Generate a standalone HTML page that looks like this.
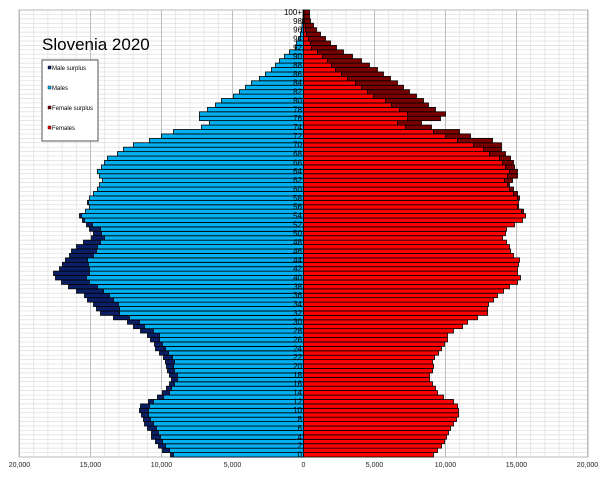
<!DOCTYPE html>
<html><head><meta charset="utf-8"><style>
body{margin:0;background:#fff;}
svg{display:block;font-family:"Liberation Sans",sans-serif;}
</style></head><body>
<svg id="s" width="600" height="482" xmlns="http://www.w3.org/2000/svg"></svg>
<script>
const M=[133,141,145,148,152,152,156,159,160,162,164,163,155,146,141,137,134,132,134,136,137,138,140,144,148,149,153,156,163,170,176,190,203,207,210,216,219,227,235,242,248,250,244,241,238,234,232,227,220,212,210,214,217,221,224,218,214,216,214,210,206,204,201,204,206,202,199,196,186,180,170,154,142,130,102,94,104,104,96,88,82,70,64,58,52,44,38,32,28,24,19,14,8,7,5,3,2,1.5,1,0.5,0.5];
const F=[130,134,138,141,143,145,147,150,153,155,155,154,150,140,134,132,129,126,126,129,130,129,131,135,138,141,144,144,150,159,164,174,184,184,185,190,194,200,206,214,217,214,214,215,216,210,207,206,203,199,202,203,211,219,222,220,215,215,216,214,210,206,209,214,214,211,210,207,202,198,198,189,167,156,128,118,137,142,132,125,120,113,106,100,94,87,80,74,66,58,49,40,33,27,22,17,13,10,7,6,6];
const C=303.5,T=10,B=457,L=19,R=588,H=(B-T)/101;
let s='';
for(let a=0;a<=101;a++){const y=(B-a*H).toFixed(2);s+=`<line x1="${L}" x2="${R}" y1="${y}" y2="${y}" stroke="#dedede" stroke-width="0.7"/>`;}
for(let k=-20;k<=20;k++){const x=(C+k*14.2).toFixed(2);const maj=k%5==0;s+=`<line x1="${x}" x2="${x}" y1="${T}" y2="${B}" stroke="${maj?'#bdbdbd':'#e0e0e0'}" stroke-width="${maj?1:0.8}"/>`;}
s+=`<rect x="${L}" y="${T}" width="${R-L}" height="${B-T}" fill="none" stroke="#b8b8b8" stroke-width="1"/>`;
for(let a=0;a<=100;a++){
 const y=B-(a+1)*H, m=M[a], f=F[a], mn=Math.min(m,f);
 const st='stroke="#000" stroke-width="0.8"';
 if(m>f) s+=`<rect x="${C-m}" y="${y}" width="${m}" height="${H}" fill="#0a1f66" ${st}/>`;
 s+=`<rect x="${C-mn}" y="${y}" width="${mn}" height="${H}" fill="#00b0f0" ${st}/>`;
 if(f>m) s+=`<rect x="${C}" y="${y}" width="${f}" height="${H}" fill="#7a0000" ${st}/>`;
 s+=`<rect x="${C}" y="${y}" width="${mn}" height="${H}" fill="#ff0000" ${st}/>`;
}
for(let a=0;a<=100;a+=2){const y=B-(a+0.5)*H+2.7;s+=`<text x="302" y="${y}" font-size="8" text-anchor="end" fill="#000">${a==100?'100+':a}</text>`;}
const lab=['20,000','15,000','10,000','5,000','0','5,000','10,000','15,000','20,000'];
lab.forEach((t,i)=>{const x=C+(i-4)*71;s+=`<text x="${x}" y="467" font-size="7" text-anchor="middle" fill="#222">${t}</text>`;});
s+=`<text x="42" y="50" font-size="17" fill="#000">Slovenia 2020</text>`;
s+=`<rect x="42" y="60" width="56" height="81" fill="#fff" stroke="#555" stroke-width="1"/>`;
[['#0a1f66','Male surplus',70],['#00b0f0','Males',90],['#7a0000','Female surplus',110],['#ff0000','Females',130]].forEach(([c,t,y])=>{
 s+=`<rect x="48" y="${y-4}" width="3" height="3" fill="${c}" stroke="#000" stroke-width="0.4"/><text x="52" y="${y}" font-size="6" fill="#000">${t}</text>`;});
document.getElementById('s').innerHTML=s;
</script>
</body></html>
